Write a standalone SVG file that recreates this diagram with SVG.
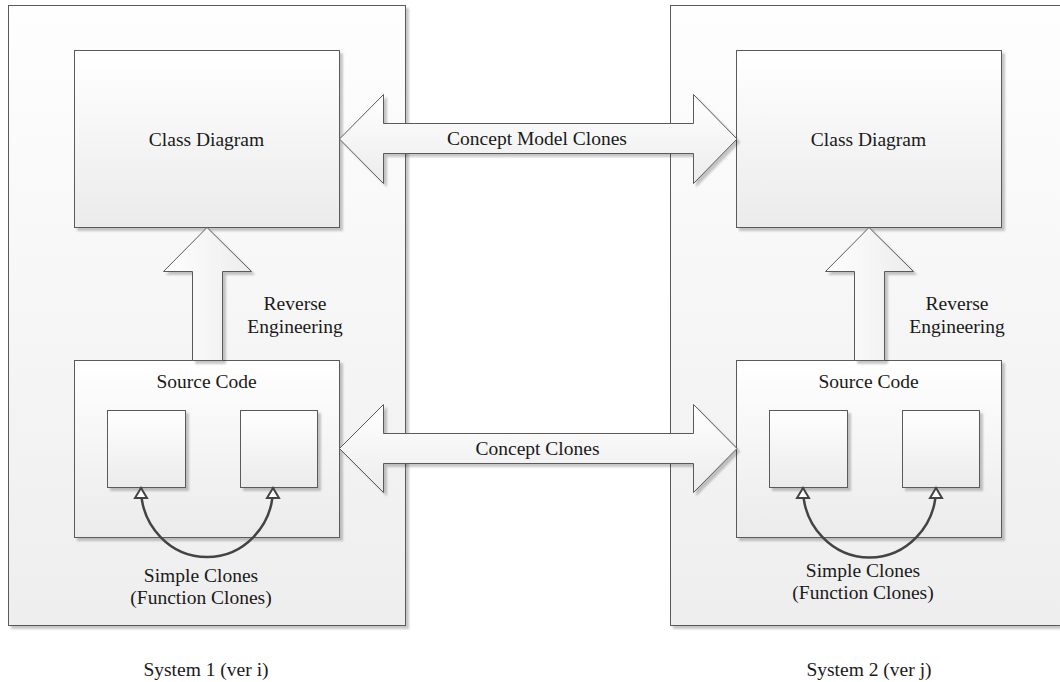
<svg xmlns="http://www.w3.org/2000/svg" width="1060" height="682" viewBox="0 0 1060 682">
<style>
  text { font-family: "Liberation Serif", "Times New Roman", serif; font-size: 19.5px; fill: #1a1a1a; text-anchor: middle; }
  .cont { fill: url(#gCont); stroke: #5a5a5a; stroke-width: 1; filter: url(#shadow); }
  .box { fill: url(#gBox); stroke: #5a5a5a; stroke-width: 1; filter: url(#shadow); }
  .small { fill: url(#gBox); stroke: #5a5a5a; stroke-width: 1; filter: url(#shadow); }
  .big-arrow { fill: url(#gArrow); stroke: #5a5a5a; stroke-width: 1; stroke-linejoin: miter; filter: url(#shadow); }
  .up-arrow { fill: url(#gArrowV); stroke: #5a5a5a; stroke-width: 1; stroke-linejoin: miter; filter: url(#shadow); }
  .clone { fill: none; stroke: #444444; stroke-width: 2.5; marker-start: url(#openTri); marker-end: url(#openTri); }
</style>
<defs>
  <linearGradient id="gCont" x1="0" y1="0" x2="0" y2="1">
    <stop offset="0" stop-color="#fefefe"/>
    <stop offset="1" stop-color="#eeeeee"/>
  </linearGradient>
  <linearGradient id="gBox" x1="0" y1="0" x2="0" y2="1">
    <stop offset="0" stop-color="#ffffff"/>
    <stop offset="1" stop-color="#ebebeb"/>
  </linearGradient>
  <linearGradient id="gArrow" x1="0" y1="0" x2="0" y2="1">
    <stop offset="0" stop-color="#ffffff"/>
    <stop offset="1" stop-color="#ececec"/>
  </linearGradient>
  <linearGradient id="gArrowV" x1="0" y1="0" x2="1" y2="0">
    <stop offset="0" stop-color="#ffffff"/>
    <stop offset="1" stop-color="#ececec"/>
  </linearGradient>
  <filter id="shadow" x="-5%" y="-5%" width="115%" height="115%">
    <feGaussianBlur in="SourceAlpha" stdDeviation="1.2"/>
    <feOffset dx="3" dy="3" result="b"/>
    <feComponentTransfer><feFuncA type="linear" slope="0.22"/></feComponentTransfer>
    <feMerge><feMergeNode/><feMergeNode in="SourceGraphic"/></feMerge>
  </filter>
  <marker id="openTri" markerUnits="userSpaceOnUse" markerWidth="16" markerHeight="16" viewBox="-13 -8 16 16" refX="0" refY="0" orient="auto-start-reverse">
    <path d="M0,0 L-10,-6 L-10,6 Z" fill="#ffffff" stroke="#444444" stroke-width="2" stroke-linejoin="miter"/>
  </marker>
</defs>

<g id="system1">
  <rect class="cont" x="8.5" y="5.5" width="397" height="620"/>
  <text x="206" y="676">System 1 (ver i)</text>
</g>
<g id="system2">
  <rect class="cont" x="670.5" y="5.5" width="397" height="620"/>
  <text x="869" y="676">System 2 (ver j)</text>
</g>

<g id="classDiagram1">
  <rect class="box" x="74.5" y="50.5" width="265" height="177"/>
  <text x="206.5" y="146">Class Diagram</text>
</g>
<g id="classDiagram2">
  <rect class="box" x="736.5" y="50.5" width="265" height="177"/>
  <text x="868.5" y="146">Class Diagram</text>
</g>

<g id="sourceCode1">
  <rect class="box" x="74.5" y="360.5" width="265" height="177"/>
  <text x="206.5" y="388">Source Code</text>
</g>
<g id="sourceCode2">
  <rect class="box" x="736.5" y="360.5" width="265" height="177"/>
  <text x="868.5" y="388">Source Code</text>
</g>

<g id="func1a"><rect class="small" x="107.5" y="410.5" width="78" height="77"/></g>
<g id="func1b"><rect class="small" x="240.5" y="410.5" width="77" height="77"/></g>
<g id="func2a"><rect class="small" x="769.5" y="410.5" width="78" height="77"/></g>
<g id="func2b"><rect class="small" x="902.5" y="410.5" width="77" height="77"/></g>

<g id="connectors">
  <polygon class="big-arrow" points="339.5,139 383.5,94.5 383.5,123.5 693.5,123.5 693.5,94.5 737,139 693.5,183.5 693.5,153.5 383.5,153.5 383.5,183.5"/>
  <text x="537" y="145">Concept Model Clones</text>

  <polygon class="big-arrow" points="339.5,448.5 383.5,404.5 383.5,433.5 693.5,433.5 693.5,404.5 737,448.5 693.5,492.5 693.5,463.5 383.5,463.5 383.5,492.5"/>
  <text x="537.5" y="455">Concept Clones</text>

  <polygon class="up-arrow" points="207,227.5 251.5,271.5 222.5,271.5 222.5,360.5 192.5,360.5 192.5,271.5 163.5,271.5"/>
  <text x="295" y="310">Reverse</text>
  <text x="295" y="333">Engineering</text>

  <polygon class="up-arrow" points="869,227.5 913.5,271.5 884.5,271.5 884.5,360.5 854.5,360.5 854.5,271.5 825.5,271.5"/>
  <text x="957" y="310">Reverse</text>
  <text x="957" y="333">Engineering</text>

  <path class="clone" d="M141,488 A66 69 0 0 0 273,488"/>
  <text x="201" y="582">Simple Clones</text>
  <text x="201" y="604">(Function Clones)</text>

  <path class="clone" d="M803,488 A66 69 0 0 0 936,488"/>
  <text x="863" y="577">Simple Clones</text>
  <text x="863" y="599">(Function Clones)</text>
</g>
</svg>
